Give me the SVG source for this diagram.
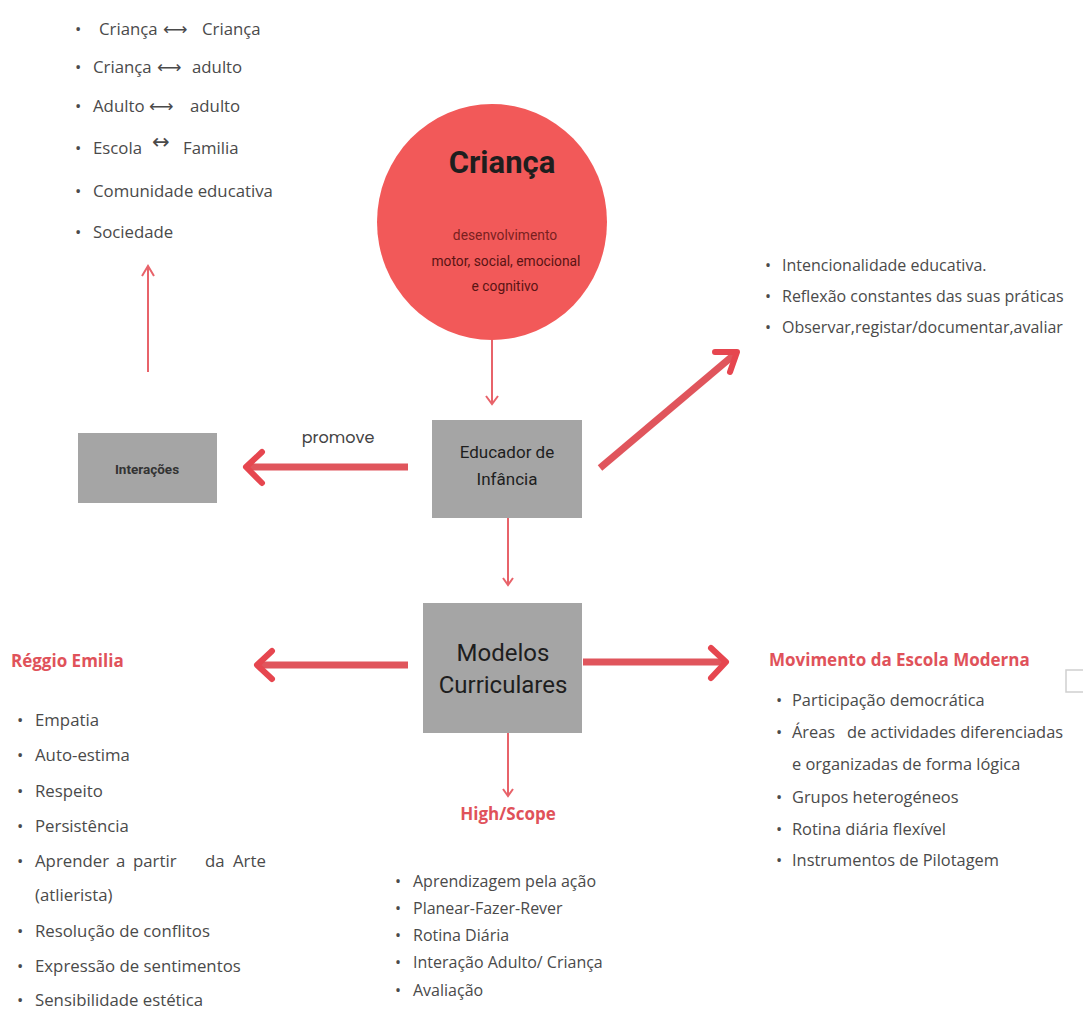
<svg xmlns="http://www.w3.org/2000/svg" width="1083" height="1023" viewBox="0 0 1083 1023">
<style>
.li{font-family:"Open Sans","Liberation Sans",sans-serif;font-size:16px;fill:#4a4a4a}
.tl{font-size:16.8px}
.rg{font-size:16.8px}
.mm{font-size:16.4px}
.ar{font-family:"DejaVu Sans",sans-serif;font-size:17px}
.ar2{font-family:"DejaVu Sans",sans-serif;font-size:21px}
.hd{font-family:"Open Sans","Liberation Sans",sans-serif;font-size:17px;font-weight:bold;fill:#e0525a}
.bx{fill:#a5a5a5}
.bt{font-family:Roboto,"Liberation Sans",sans-serif;fill:#1e1e1e;text-anchor:middle}
.thin{stroke:#e8636a;stroke-width:2;fill:none}
.thick{stroke:#e0555c;stroke-width:7;fill:none}
.head{stroke:#e6464f;stroke-width:6;fill:none;stroke-linecap:round;stroke-linejoin:round}
.headt{stroke:#e8636a;stroke-width:2;fill:none}
</style>
<rect width="1083" height="1023" fill="#ffffff"/>

<g id="crianca">
<ellipse cx="492" cy="222" rx="115" ry="118" fill="#f25959"/>
<text x="502" y="173" class="bt" font-size="31" font-weight="bold" fill="#111">Criança</text>
<text x="505" y="240" class="bt" font-size="13.8" style="fill:#7a1f1f">desenvolvimento</text>
<text x="506" y="266" class="bt" font-size="13.8" style="fill:#5a1414">motor, social, emocional</text>
<text x="505" y="291" class="bt" font-size="13.8" style="fill:#5a1414">e cognitivo</text>
</g>

<g id="educador">
<rect x="432" y="420" width="150" height="98" class="bx"/>
<text x="507" y="458" class="bt" font-size="17">Educador de</text>
<text x="507" y="485" class="bt" font-size="17">Infância</text>
</g>

<g id="interacoes">
<rect x="78" y="433" width="139" height="70" class="bx"/>
<text x="147" y="474" class="bt" font-size="13.5" font-weight="bold" style="fill:#333">Interações</text>
</g>

<g id="modelos">
<rect x="423" y="603" width="159" height="130" class="bx"/>
<text x="503" y="661" class="bt" font-size="24">Modelos</text>
<text x="503" y="693" class="bt" font-size="24">Curriculares</text>
</g>

<g id="small-box">
<rect x="1066" y="670" width="22" height="22" fill="#fff" stroke="#cfcfcf" stroke-width="1.5"/>
</g>

<g id="connectors">
<line x1="492" y1="340" x2="492" y2="404" class="thin"/>
<polyline points="486,396 492,404 498,396" class="headt"/>
<line x1="408" y1="467" x2="248" y2="467" class="thick"/>
<polyline points="262,452 246,467 262,483" class="head"/>
<text x="338" y="443" font-family="Poppins,Roboto,'Liberation Sans',sans-serif" font-size="16" fill="#444" text-anchor="middle">promove</text>
<line x1="148" y1="372" x2="148" y2="266" class="thin"/>
<polyline points="142,276 148,266 154,276" class="headt"/>
<line x1="600" y1="468" x2="735" y2="354" class="thick"/>
<polyline points="715,352 737,352 730,372" class="head"/>
<line x1="508" y1="518" x2="508" y2="585" class="thin"/>
<polyline points="503,578 508,585 513,578" class="headt"/>
<line x1="408" y1="665" x2="258" y2="665" class="thick"/>
<polyline points="272,651 257,665 272,679" class="head"/>
<line x1="583" y1="662" x2="726" y2="662" class="thick"/>
<polyline points="711,648 726,662 711,678" class="head"/>
<line x1="508" y1="733" x2="508" y2="796" class="thin"/>
<polyline points="503,789 508,796 513,789" class="headt"/>
</g>

<g id="top-list" class="li tl">
<text><tspan x="75" y="35">•</tspan><tspan x="99" y="35">Criança</tspan><tspan x="163" class="ar">⟷</tspan><tspan x="202">Criança</tspan></text>
<text><tspan x="75" y="73">•</tspan><tspan x="93" y="73">Criança</tspan><tspan x="157" class="ar">⟷</tspan><tspan x="192">adulto</tspan></text>
<text><tspan x="75" y="112">•</tspan><tspan x="93" y="112">Adulto</tspan><tspan x="149" class="ar">⟷</tspan><tspan x="190">adulto</tspan></text>
<text><tspan x="75" y="154">•</tspan><tspan x="93" y="154">Escola</tspan><tspan x="152" y="149" class="ar2">↔</tspan><tspan x="183" y="154">Familia</tspan></text>
<text><tspan x="75" y="197">•</tspan><tspan x="93" y="197">Comunidade educativa</tspan></text>
<text><tspan x="75" y="238">•</tspan><tspan x="93" y="238">Sociedade</tspan></text>
</g>

<g id="right-list" class="li">
<text><tspan x="765" y="271">•</tspan><tspan x="782" y="271">Intencionalidade educativa.</tspan></text>
<text><tspan x="765" y="302">•</tspan><tspan x="782" y="302">Reflexão constantes das suas práticas</tspan></text>
<text><tspan x="765" y="333">•</tspan><tspan x="782" y="333">Observar,registar/documentar,avaliar</tspan></text>
</g>

<g id="reggio">
<text x="11" y="667" class="hd">Réggio Emilia</text>
<g class="li rg">
<text><tspan x="17" y="726">•</tspan><tspan x="35" y="726">Empatia</tspan></text>
<text><tspan x="17" y="761">•</tspan><tspan x="35" y="761">Auto-estima</tspan></text>
<text><tspan x="17" y="797">•</tspan><tspan x="35" y="797">Respeito</tspan></text>
<text><tspan x="17" y="832">•</tspan><tspan x="35" y="832">Persistência</tspan></text>
<text><tspan x="17" y="867">•</tspan><tspan x="35" y="867">Aprender</tspan><tspan x="116">a</tspan><tspan x="133">partir</tspan><tspan x="205">da</tspan><tspan x="233">Arte</tspan></text>
<text><tspan x="35" y="901">(atlierista)</tspan></text>
<text><tspan x="17" y="937">•</tspan><tspan x="35" y="937">Resolução de conflitos</tspan></text>
<text><tspan x="17" y="972">•</tspan><tspan x="35" y="972">Expressão de sentimentos</tspan></text>
<text><tspan x="17" y="1006">•</tspan><tspan x="35" y="1006">Sensibilidade estética</tspan></text>
</g>
</g>

<g id="highscope">
<text x="508" y="820" class="hd" text-anchor="middle">High/Scope</text>
<g class="li">
<text><tspan x="395" y="887">•</tspan><tspan x="413" y="887">Aprendizagem pela ação</tspan></text>
<text><tspan x="395" y="914">•</tspan><tspan x="413" y="914">Planear-Fazer-Rever</tspan></text>
<text><tspan x="395" y="941">•</tspan><tspan x="413" y="941">Rotina Diária</tspan></text>
<text><tspan x="395" y="968">•</tspan><tspan x="413" y="968">Interação Adulto/ Criança</tspan></text>
<text><tspan x="395" y="996">•</tspan><tspan x="413" y="996">Avaliação</tspan></text>
</g>
</g>

<g id="mem">
<text x="769" y="666" class="hd">Movimento da Escola Moderna</text>
<g class="li mm">
<text><tspan x="776" y="706">•</tspan><tspan x="792" y="706">Participação democrática</tspan></text>
<text><tspan x="776" y="738">•</tspan><tspan x="792" y="738">Áreas</tspan><tspan x="847">de actividades diferenciadas</tspan></text>
<text><tspan x="792" y="770">e organizadas de forma lógica</tspan></text>
<text><tspan x="776" y="803">•</tspan><tspan x="792" y="803">Grupos heterogéneos</tspan></text>
<text><tspan x="776" y="835">•</tspan><tspan x="792" y="835">Rotina diária flexível</tspan></text>
<text><tspan x="776" y="866">•</tspan><tspan x="792" y="866">Instrumentos de Pilotagem</tspan></text>
</g>
</g>
</svg>
